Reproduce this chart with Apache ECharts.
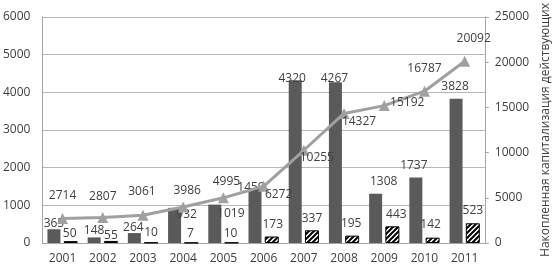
<!DOCTYPE html>
<html>
<head>
<meta charset="utf-8">
<script src="https://cdn.jsdelivr.net/npm/echarts@6/dist/echarts.min.js"></script>
<style>
  html, body { margin: 0; padding: 0; background: #fff; }
  #main { width: 560px; height: 265px; }
</style>
</head>
<body>
<div id="main"></div>
<script>
var years = ['2001', '2002', '2003', '2004', '2005', '2006', '2007', '2008', '2009', '2010', '2011'];
var darkBars = [365, 148, 264, 932, 1019, 1450, 4320, 4267, 1308, 1737, 3828];
var hatchBars = [50, 55, 10, 7, 10, 173, 337, 195, 443, 142, 523];
var capLine = [2714, 2807, 3061, 3986, 4995, 6272, 10255, 14327, 15192, 16787, 20092];
var rightAxisName = 'Накопленная капитализация действующих';

// label nudges so the numbers sit where they do in the picture
var darkOffsets = [[0, 0], [0, -1], [-1, 1], [12, 13], [16, 15], [-4, 5], [-3, 4], [-1, 2], [8, -6], [-2, -6], [-1, -6]];
var hatchOffsets = [[-1, -2], [0, 1], [0, -4], [-1, -3], [-1, -3], [1, -6], [0, -6], [-1, -6], [4, -6], [-2, -7], [0, -7]];
var lineOffsets = [[0, -11], [0, -10], [-1, -12], [4, -5], [3, -5], [15, 20], [13, 19], [15, 20], [23, 8], [0, -11], [9, -11]];

function withOffsets(values, offsets) {
    return values.map(function (v, i) {
        return { value: v, label: { offset: offsets[i] } };
    });
}

// hatch fill "////"
var tile = document.createElement('canvas');
tile.width = 5;
tile.height = 5;
var ctx = tile.getContext('2d');
ctx.fillStyle = '#fff';
ctx.fillRect(0, 0, 5, 5);
ctx.strokeStyle = '#000';
ctx.lineWidth = 2;
ctx.beginPath();
ctx.moveTo(-1, 6); ctx.lineTo(6, -1);
ctx.moveTo(-1, 1); ctx.lineTo(1, -1);
ctx.moveTo(4, 6); ctx.lineTo(6, 4);
ctx.stroke();

var font = 'Open Sans';
var textColor = '#404040';
var plain = function (v) { return String(v); };

var chart = echarts.init(document.getElementById('main'));
var option = {
    animation: false,
    backgroundColor: '#fff',
    textStyle: { fontFamily: font },
    grid: { left: 40, right: 67, top: 3, bottom: 22, containLabel: false },
    xAxis: {
        type: 'category',
        data: years,
        axisLine: { lineStyle: { color: '#a6a6a6' } },
        axisTick: { show: false },
        axisLabel: { color: textColor, fontSize: 12, margin: 10, fontFamily: font }
    },
    yAxis: [{
        type: 'value',
        min: 0,
        max: 6000,
        interval: 1000,
        axisLine: { show: true, lineStyle: { color: '#a6a6a6' } },
        axisTick: { show: false },
        axisLabel: { color: textColor, fontSize: 12, margin: 12, fontFamily: font, formatter: plain },
        splitLine: { lineStyle: { color: '#b8b8b8' } }
    }, {
        type: 'value',
        min: 0,
        max: 25000,
        interval: 5000,
        position: 'right',
        name: rightAxisName,
        nameLocation: 'middle',
        nameRotate: 90,
        nameGap: 52,
        nameTextStyle: { color: textColor, fontSize: 12, fontFamily: font },
        axisLine: { show: true, lineStyle: { color: '#a6a6a6' } },
        axisTick: { show: true, length: 4, lineStyle: { color: '#a6a6a6' } },
        axisLabel: { color: textColor, fontSize: 12, margin: 10, fontFamily: font, formatter: plain },
        splitLine: { show: false }
    }],
    series: [{
        type: 'bar',
        data: withOffsets(darkBars, darkOffsets),
        barWidth: 13,
        barGap: '25%',
        itemStyle: { color: '#5a5a5a' },
        label: { show: true, position: 'top', distance: 0, color: textColor, fontSize: 12, fontFamily: font }
    }, {
        type: 'bar',
        data: withOffsets(hatchBars, hatchOffsets),
        barWidth: 14,
        itemStyle: { color: { image: tile, repeat: 'repeat' }, borderColor: '#000', borderWidth: 1 },
        label: { show: true, position: 'top', distance: 0, color: textColor, fontSize: 12, fontFamily: font }
    }, {
        type: 'line',
        yAxisIndex: 1,
        data: withOffsets(capLine, lineOffsets),
        symbol: 'triangle',
        symbolSize: 11,
        z: 5,
        lineStyle: { color: '#a0a0a0', width: 3 },
        itemStyle: { color: '#a0a0a0' },
        label: { show: true, position: 'top', distance: 0, color: textColor, fontSize: 12, fontFamily: font }
    }]
};
chart.setOption(option);
</script>
</body>
</html>
